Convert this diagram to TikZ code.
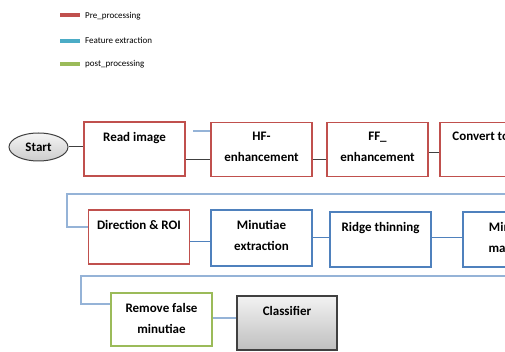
\documentclass[tikz,border=0pt]{standalone}
\usepackage{fontspec}
\setmainfont{Carlito}
\usepackage{tikz}
\usetikzlibrary{calc,shapes.geometric}
\definecolor{prered}{HTML}{C0504D}
\definecolor{featblue}{HTML}{4F81BD}
\definecolor{legblue}{HTML}{4BACC6}
\definecolor{postgreen}{HTML}{9BBB59}
\definecolor{paleblue}{HTML}{95B3D7}
\definecolor{darkline}{HTML}{404040}
\tikzset{
  box/.style={draw, line width=1.6pt, fill=white, inner sep=0pt, minimum width=101pt, minimum height=54pt},
  tl/.style={anchor=north, yshift=-10.5pt, inner sep=0pt, align=center, font=\bfseries\fontsize{13}{21}\selectfont},
  legtext/.style={anchor=west, font=\fontsize{9}{10}\selectfont, inner sep=0pt},
  every edge/.style={draw, line width=1pt}
}

\begin{document}
\begin{tikzpicture}[x=1pt, y=-1pt]
    \useasboundingbox (0,0) rectangle (505,352);
    \clip (0,0) rectangle (505,352);

    % legend
    \coordinate (l1) at (60,15);
    \coordinate (l2) at (60,41);
    \coordinate (l3) at (60,64);
    \draw[prered, line width=4pt] (l1) -- ++(20,0);
    \draw[legblue, line width=4pt] (l2) -- ++(20,0);
    \draw[postgreen, line width=4pt] (l3) -- ++(20,0);
    \node[legtext] at (85,16) (lpre) {Pre\_processing};
    \node[legtext] at (85,40) (lfeat) {Feature extraction};
    \node[legtext] at (85,64) (lpost) {post\_processing};

    % first row
    \node[draw=darkline, line width=1pt, ellipse, top color=gray!8, bottom color=gray!40,
          minimum width=59pt, minimum height=28pt, inner sep=0pt,
          font=\bfseries\fontsize{13}{15}\selectfont] at (38.5,147) (start) {Start};
    \node[box, draw=prered, label={[tl]north:Read image}] at (134.5,149) (read) {};
    \node[box, draw=prered, label={[tl]north:HF-\\enhancement}] at (261.5,149.5) (hf) {};
    \node[box, draw=prered, label={[tl]north:FF\_\\enhancement}] at (377.5,149.5) (ff) {};
    \node[box, draw=prered, label={[tl, anchor=north west, xshift=13pt]north west:Convert to}] at (490.5,149.5) (conv) {};

    \draw (start.east) edge[darkline] (start.east -| read.west);
    \draw ([yshift=-11pt]read.east) edge[darkline] ([yshift=-11pt]read.east -| hf.west);
    \draw ([yshift=-10.5pt]hf.east) edge[darkline] ([yshift=-10.5pt]hf.east -| ff.west);
    \draw ([yshift=-3.5pt]ff.east) edge[darkline] ([yshift=-3.5pt]ff.east -| conv.west);
    \coordinate (stub) at (193,131);
    \draw (stub) edge[paleblue, line width=1.5pt] (stub -| hf.west);

    % second row
    \node[box, draw=prered, label={[tl]north:Direction \& ROI}] at (139,237) (dir) {};
    \node[box, draw=featblue, minimum height=56pt, label={[tl]north:Minutiae\\extraction}] at (261.5,238) (minu) {};
    \node[box, draw=featblue, minimum height=55pt, label={[tl]north:Ridge thinning}] at (380.5,239.5) (ridge) {};
    \node[box, draw=featblue, minimum height=55pt, label={[tl]north:Minutiae\\matching}] at (513.5,239.5) (match) {};

    \coordinate (b1) at (67,194);
    \draw[paleblue, line width=1.5pt] ([yshift=10pt]dir.west) -| (b1) -- ++(460,0);
    \draw ([yshift=-5pt]dir.east) edge[featblue] ([yshift=-5pt]dir.east -| minu.west);
    \draw (minu.east) edge[featblue] (minu.east -| ridge.west);
    \draw ([yshift=1.5pt]ridge.east) edge[featblue] ([yshift=1.5pt]ridge.east -| match.west);

    % third row
    \node[box, draw=postgreen, minimum height=53pt, label={[tl]north:Remove false\\minutiae}] at (161.5,319.5) (remove) {};
    \node[box, draw=darkline, line width=1.3pt, top color=gray!10, bottom color=gray!50,
          minimum width=100pt, label={[tl]north:Classifier}] at (287,323) (clf) {};

    \coordinate (b2) at (81,276);
    \draw[paleblue, line width=1.5pt] ([yshift=15.5pt]remove.west) -| (b2) -- ++(440,0);
    \draw ([yshift=1.5pt]remove.east) edge[paleblue, line width=1.3pt] ([yshift=1.5pt]remove.east -| clf.west);
\end{tikzpicture}
\end{document}
